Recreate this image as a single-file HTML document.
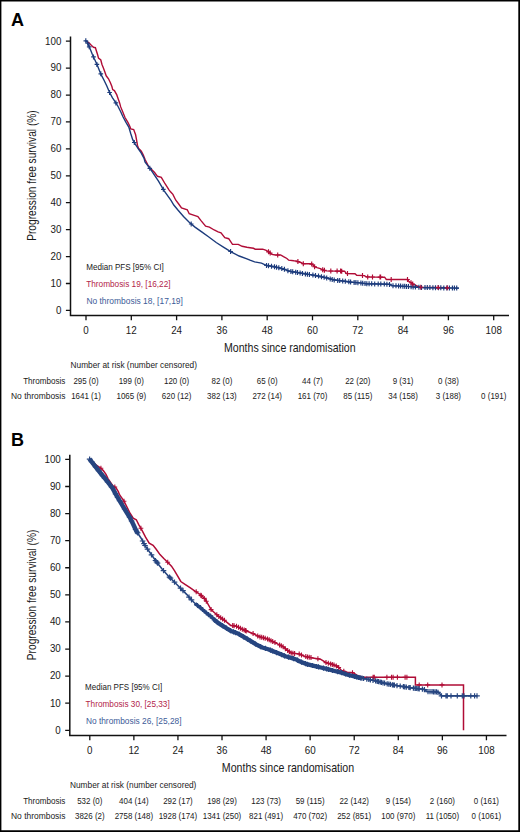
<!DOCTYPE html>
<html><head><meta charset="utf-8"><title>Progression free survival</title>
<style>html,body{margin:0;padding:0;background:#fff;}svg{display:block;}text{font-family:"Liberation Sans", sans-serif;}.tk{font-size:10.1px;fill:#1a1a1a;}.lg{font-size:8.6px;}.tb{font-size:8.6px;fill:#1a1a1a;}.ti{font-size:12.9px;fill:#1a1a1a;}.pl{font-size:18px;font-weight:bold;fill:#000;}</style></head><body>
<svg width="520" height="832" viewBox="0 0 520 832">
<rect x="0" y="0" width="520" height="832" fill="#fff"/>
<path d="M0,0.7 H520 M0.7,0 V832" stroke="#000" stroke-width="1.4" fill="none"/>
<path d="M0,831.15 H520 M519.15,0 V832" stroke="#000" stroke-width="1.7" fill="none"/>
<text x="10.9" y="26.4" class="pl">A</text>
<text x="11.1" y="446.4" class="pl">B</text>
<path d="M70.5,36.5 V316.25 M69.75,315.5 H509.0" stroke="#111" stroke-width="1.5" fill="none"/>
<path d="M65.9,310.40 H70.5 M65.9,283.48 H70.5 M65.9,256.56 H70.5 M65.9,229.64 H70.5 M65.9,202.72 H70.5 M65.9,175.80 H70.5 M65.9,148.88 H70.5 M65.9,121.96 H70.5 M65.9,95.04 H70.5 M65.9,68.12 H70.5 M65.9,41.20 H70.5 M86.00,315.5 V320.2 M131.30,315.5 V320.2 M176.60,315.5 V320.2 M221.90,315.5 V320.2 M267.20,315.5 V320.2 M312.50,315.5 V320.2 M357.80,315.5 V320.2 M403.10,315.5 V320.2 M448.40,315.5 V320.2 M493.70,315.5 V320.2" stroke="#111" stroke-width="1.3" fill="none"/>
<text x="61.4" y="313.70" text-anchor="end" class="tk" textLength="5.45" lengthAdjust="spacingAndGlyphs">0</text>
<text x="61.4" y="286.78" text-anchor="end" class="tk" textLength="10.90" lengthAdjust="spacingAndGlyphs">10</text>
<text x="61.4" y="259.86" text-anchor="end" class="tk" textLength="10.90" lengthAdjust="spacingAndGlyphs">20</text>
<text x="61.4" y="232.94" text-anchor="end" class="tk" textLength="10.90" lengthAdjust="spacingAndGlyphs">30</text>
<text x="61.4" y="206.02" text-anchor="end" class="tk" textLength="10.90" lengthAdjust="spacingAndGlyphs">40</text>
<text x="61.4" y="179.10" text-anchor="end" class="tk" textLength="10.90" lengthAdjust="spacingAndGlyphs">50</text>
<text x="61.4" y="152.18" text-anchor="end" class="tk" textLength="10.90" lengthAdjust="spacingAndGlyphs">60</text>
<text x="61.4" y="125.26" text-anchor="end" class="tk" textLength="10.90" lengthAdjust="spacingAndGlyphs">70</text>
<text x="61.4" y="98.34" text-anchor="end" class="tk" textLength="10.90" lengthAdjust="spacingAndGlyphs">80</text>
<text x="61.4" y="71.42" text-anchor="end" class="tk" textLength="10.90" lengthAdjust="spacingAndGlyphs">90</text>
<text x="61.4" y="44.50" text-anchor="end" class="tk" textLength="16.35" lengthAdjust="spacingAndGlyphs">100</text>
<text x="86.00" y="333.9" text-anchor="middle" class="tk" textLength="5.45" lengthAdjust="spacingAndGlyphs">0</text>
<text x="131.30" y="333.9" text-anchor="middle" class="tk" textLength="10.90" lengthAdjust="spacingAndGlyphs">12</text>
<text x="176.60" y="333.9" text-anchor="middle" class="tk" textLength="10.90" lengthAdjust="spacingAndGlyphs">24</text>
<text x="221.90" y="333.9" text-anchor="middle" class="tk" textLength="10.90" lengthAdjust="spacingAndGlyphs">36</text>
<text x="267.20" y="333.9" text-anchor="middle" class="tk" textLength="10.90" lengthAdjust="spacingAndGlyphs">48</text>
<text x="312.50" y="333.9" text-anchor="middle" class="tk" textLength="10.90" lengthAdjust="spacingAndGlyphs">60</text>
<text x="357.80" y="333.9" text-anchor="middle" class="tk" textLength="10.90" lengthAdjust="spacingAndGlyphs">72</text>
<text x="403.10" y="333.9" text-anchor="middle" class="tk" textLength="10.90" lengthAdjust="spacingAndGlyphs">84</text>
<text x="448.40" y="333.9" text-anchor="middle" class="tk" textLength="10.90" lengthAdjust="spacingAndGlyphs">96</text>
<text x="493.70" y="333.9" text-anchor="middle" class="tk" textLength="16.35" lengthAdjust="spacingAndGlyphs">108</text>
<text class="ti" transform="translate(36.2,240.8) rotate(-90)" textLength="130.5" lengthAdjust="spacingAndGlyphs">Progression free survival (%)</text>
<text class="ti" x="224.0" y="351.6" textLength="131.6" lengthAdjust="spacingAndGlyphs">Months since randomisation</text>
<polyline points="86.0,41.2 87.3,41.9 89.2,43.1 91.5,45.4 93.5,47.3 95.4,47.7 96.5,51.2 97.7,55.0 98.5,58.1 100.8,60.0 101.9,64.2 103.1,67.3 104.6,71.2 106.2,75.8 108.5,78.8 110.4,82.7 111.9,86.5 112.7,89.6 114.4,90.6 116.8,94.9 118.3,99.2 119.7,103.1 120.7,106.9 123.1,112.7 125.0,117.5 127.9,122.3 129.8,126.2 130.8,129.0 133.7,129.5 135.6,134.8 136.5,139.6 137.5,145.4 138.5,148.3 141.3,151.2 143.3,155.0 145.2,159.8 148.8,166.7 154.6,172.5 157.5,176.3 161.3,177.3 165.2,184.0 169.0,189.8 170.5,191.8 172.9,194.4 175.8,200.2 178.7,204.0 181.5,207.9 187.3,209.8 189.2,213.7 195.0,215.6 197.9,216.5 200.8,220.4 205.6,226.2 209.4,227.1 214.2,230.0 218.1,231.9 221.0,232.9 224.8,237.7 228.7,238.7 232.5,244.4 238.3,244.4 242.1,246.3 246.9,247.3 250.0,247.8 253.5,248.3 255.2,249.2 262.7,249.2 266.2,250.4 269.0,252.1 271.9,254.4 275.4,255.0 280.6,255.0 283.5,256.7 286.9,258.5 288.7,260.2 293.8,260.8 296.2,261.0 300.8,262.5 303.1,263.7 310.0,263.7 312.3,264.2 314.0,266.5 316.9,267.7 320.4,268.6 322.7,269.8 326.2,270.9 344.6,271.2 346.3,273.5 355.0,273.7 356.7,275.3 364.2,275.6 366.5,276.9 384.6,277.2 386.3,279.5 407.7,279.5 408.8,281.3 410.4,282.3 412.7,284.0 419.6,287.2 448.5,287.8" fill="none" stroke="#b00c36" stroke-width="1.4" stroke-linejoin="miter"/>
<polyline points="85.8,40.8 87.3,42.3 88.8,45.8 90.4,49.6 92.3,54.2 94.2,58.5 96.2,62.7 98.1,67.3 100.0,71.9 101.5,75.4 103.8,79.8 106.7,85.8 109.6,92.5 112.5,97.8 115.4,102.1 117.8,106.0 120.7,111.7 123.1,117.0 126.0,122.3 128.8,127.1 130.8,133.8 132.7,139.6 135.1,143.9 138.5,149.2 141.3,153.1 144.2,158.8 145.0,161.9 150.8,169.6 158.5,181.2 164.2,190.8 171.0,200.4 173.8,205.0 177.7,209.8 183.5,216.5 189.2,222.3 195.0,227.1 201.7,231.9 208.5,236.7 216.2,242.5 223.8,247.3 231.5,252.1 239.2,256.0 246.9,258.8 250.0,260.2 254.6,261.9 261.5,263.1 266.2,265.4 273.1,266.5 278.8,267.7 284.6,269.4 289.2,271.2 296.2,272.3 303.1,273.5 310.0,274.6 316.9,275.8 325.0,277.5 329.6,278.7 333.1,279.8 344.6,281.2 352.3,282.3 360.0,282.9 366.2,283.7 378.8,284.0 389.2,284.2 391.5,285.6 410.0,286.6 420.8,287.5 458.8,288.1" fill="none" stroke="#1c3b7c" stroke-width="1.4" stroke-linejoin="miter"/>
<path d="M85.8,38.3 V43.3 M83.5,40.8 H88.1 M87.7,40.7 V45.7 M85.4,43.2 H90.0 M89.2,44.3 V49.3 M86.9,46.8 H91.5 M93.5,54.4 V59.4 M91.2,56.9 H95.8 M96.9,61.9 V66.9 M94.6,64.4 H99.2 M100.8,71.3 V76.3 M98.5,73.8 H103.1 M109.6,90.0 V95.0 M107.3,92.5 H111.9 M115.9,100.4 V105.4 M113.6,102.9 H118.2 M134.3,140.0 V145.0 M132.0,142.5 H136.6 M149.8,165.8 V170.8 M147.5,168.3 H152.1 M163.3,186.8 V191.8 M161.0,189.3 H165.6 M191.2,221.5 V226.5 M188.9,224.0 H193.5 M230.6,249.0 V254.0 M228.3,251.5 H232.9 M266.5,262.9 V267.9 M264.2,265.4 H268.8 M268.5,263.3 V268.3 M266.2,265.8 H270.8 M271.5,263.7 V268.7 M269.2,266.2 H273.8 M274.5,264.3 V269.3 M272.2,266.8 H276.8 M276.5,264.7 V269.7 M274.2,267.2 H278.8 M278.8,265.2 V270.2 M276.5,267.7 H281.1 M281.8,266.1 V271.1 M279.5,268.6 H284.1 M284.4,266.8 V271.8 M282.1,269.3 H286.7 M287.9,268.2 V273.2 M285.6,270.7 H290.2 M290.9,269.0 V274.0 M288.6,271.5 H293.2 M292.7,269.2 V274.2 M290.4,271.8 H295.0 M295.7,269.7 V274.7 M293.4,272.2 H298.0 M297.5,270.0 V275.0 M295.2,272.5 H299.8 M300.1,270.5 V275.5 M297.8,273.0 H302.4 M302.4,270.9 V275.9 M300.1,273.4 H304.7 M305.4,271.4 V276.4 M303.1,273.9 H307.7 M307.4,271.7 V276.7 M305.1,274.2 H309.7 M309.4,272.0 V277.0 M307.1,274.5 H311.7 M312.9,272.6 V277.6 M310.6,275.1 H315.2 M315.5,273.1 V278.1 M313.2,275.6 H317.8 M318.5,273.6 V278.6 M316.2,276.1 H320.8 M321.5,274.3 V279.3 M319.2,276.8 H323.8 M324.1,274.8 V279.8 M321.8,277.3 H326.4 M326.7,275.4 V280.4 M324.4,277.9 H329.0 M330.2,276.4 V281.4 M327.9,278.9 H332.5 M332.2,277.0 V282.0 M329.9,279.5 H334.5 M334.2,277.4 V282.4 M331.9,279.9 H336.5 M337.7,277.9 V282.9 M335.4,280.4 H340.0 M339.7,278.1 V283.1 M337.4,280.6 H342.0 M342.7,278.5 V283.5 M340.4,281.0 H345.0 M345.3,278.8 V283.8 M343.0,281.3 H347.6 M348.8,279.3 V284.3 M346.5,281.8 H351.1 M350.6,279.6 V284.6 M348.3,282.1 H352.9 M354.1,279.9 V284.9 M351.8,282.4 H356.4 M355.9,280.1 V285.1 M353.6,282.6 H358.2 M357.9,280.2 V285.2 M355.6,282.7 H360.2 M360.9,280.5 V285.5 M358.6,283.0 H363.2 M362.7,280.7 V285.7 M360.4,283.2 H365.0 M365.0,281.0 V286.0 M362.7,283.5 H367.3 M366.8,281.2 V286.2 M364.5,283.7 H369.1 M369.1,281.3 V286.3 M366.8,283.8 H371.4 M371.7,281.3 V286.3 M369.4,283.8 H374.0 M374.7,281.4 V286.4 M372.4,283.9 H377.0 M378.2,281.5 V286.5 M375.9,284.0 H380.5 M380.8,281.5 V286.5 M378.5,284.0 H383.1 M384.3,281.6 V286.6 M382.0,284.1 H386.6 M386.9,281.7 V286.7 M384.6,284.2 H389.2 M389.5,281.9 V286.9 M387.2,284.4 H391.8 M393.0,283.2 V288.2 M390.7,285.7 H395.3 M396.0,283.3 V288.3 M393.7,285.8 H398.3 M398.6,283.5 V288.5 M396.3,286.0 H400.9 M400.6,283.6 V288.6 M398.3,286.1 H402.9 M402.9,283.7 V288.7 M400.6,286.2 H405.2 M404.7,283.8 V288.8 M402.4,286.3 H407.0 M406.5,283.9 V288.9 M404.2,286.4 H408.8 M408.5,284.0 V289.0 M406.2,286.5 H410.8 M411.1,284.2 V289.2 M408.8,286.7 H413.4 M413.1,284.4 V289.4 M410.8,286.9 H415.4 M415.4,284.6 V289.6 M413.1,287.1 H417.7 M418.9,284.8 V289.8 M416.6,287.3 H421.2 M421.5,285.0 V290.0 M419.2,287.5 H423.8 M425.0,285.1 V290.1 M422.7,287.6 H427.3 M427.3,285.1 V290.1 M425.0,287.6 H429.6 M429.9,285.1 V290.1 M427.6,287.6 H432.2 M432.9,285.2 V290.2 M430.6,287.7 H435.2 M435.5,285.2 V290.2 M433.2,287.7 H437.8 M438.5,285.3 V290.3 M436.2,287.8 H440.8 M440.8,285.3 V290.3 M438.5,287.8 H443.1 M443.8,285.4 V290.4 M441.5,287.9 H446.1 M446.8,285.4 V290.4 M444.5,287.9 H449.1 M449.4,285.5 V290.5 M447.1,288.0 H451.7 M452.4,285.5 V290.5 M450.1,288.0 H454.7 M454.4,285.5 V290.5 M452.1,288.0 H456.7 M456.7,285.6 V290.6 M454.4,288.1 H459.0" stroke="#1c3b7c" stroke-width="1.15" fill="none"/>
<path d="M268.5,249.3 V254.3 M266.2,251.8 H270.8 M270.2,250.6 V255.6 M267.9,253.1 H272.5 M277.7,252.5 V257.5 M275.4,255.0 H280.0 M297.9,259.1 V264.1 M295.6,261.6 H300.2 M303.3,261.2 V266.2 M301.0,263.7 H305.6 M311.7,261.6 V266.6 M309.4,264.1 H314.0 M314.6,264.2 V269.2 M312.3,266.7 H316.9 M322.7,267.3 V272.3 M320.4,269.8 H325.0 M324.4,267.8 V272.8 M322.1,270.3 H326.7 M330.8,268.5 V273.5 M328.5,271.0 H333.1 M337.1,268.6 V273.6 M334.8,271.1 H339.4 M340.6,268.6 V273.6 M338.3,271.1 H342.9 M341.7,268.7 V273.7 M339.4,271.2 H344.0 M347.5,271.0 V276.0 M345.2,273.5 H349.8 M362.5,273.0 V278.0 M360.2,275.5 H364.8 M367.7,274.4 V279.4 M365.4,276.9 H370.0 M372.5,274.5 V279.5 M370.2,277.0 H374.8 M380.0,274.6 V279.6 M377.7,277.1 H382.3 M380.6,274.6 V279.6 M378.3,277.1 H382.9 M391.2,277.0 V282.0 M388.9,279.5 H393.5 M407.5,277.0 V282.0 M405.2,279.5 H409.8 M411.0,280.2 V285.2 M408.7,282.7 H413.3 M412.7,281.5 V286.5 M410.4,284.0 H415.0 M420.8,284.7 V289.7 M418.5,287.2 H423.1 M438.1,285.1 V290.1 M435.8,287.6 H440.4 M447.3,285.3 V290.3 M445.0,287.8 H449.6" stroke="#b00c36" stroke-width="1.15" fill="none"/>
<text x="86.2" y="270.1" class="lg" fill="#1a1a1a" textLength="77.6" lengthAdjust="spacingAndGlyphs">Median PFS [95% CI]</text>
<text x="86.2" y="286.6" class="lg" fill="#b3244a" textLength="84.4" lengthAdjust="spacingAndGlyphs">Thrombosis 19, [16,22]</text>
<text x="86.4" y="303.9" class="lg" fill="#3d5b98" textLength="96.5" lengthAdjust="spacingAndGlyphs">No thrombosis 18, [17,19]</text>
<text x="70.6" y="368.0" class="tb" textLength="126.4" lengthAdjust="spacingAndGlyphs">Number at risk (number censored)</text>
<text x="65.4" y="383.5" class="tb" text-anchor="end" textLength="42.2" lengthAdjust="spacingAndGlyphs">Thrombosis</text>
<text x="65.4" y="398.8" class="tb" text-anchor="end" textLength="54.4" lengthAdjust="spacingAndGlyphs">No thrombosis</text>
<text x="86.00" y="383.5" class="tb" text-anchor="middle" textLength="25.21" lengthAdjust="spacingAndGlyphs">295 (0)</text>
<text x="131.30" y="383.5" class="tb" text-anchor="middle" textLength="25.21" lengthAdjust="spacingAndGlyphs">199 (0)</text>
<text x="176.60" y="383.5" class="tb" text-anchor="middle" textLength="25.21" lengthAdjust="spacingAndGlyphs">120 (0)</text>
<text x="221.90" y="383.5" class="tb" text-anchor="middle" textLength="20.78" lengthAdjust="spacingAndGlyphs">82 (0)</text>
<text x="267.20" y="383.5" class="tb" text-anchor="middle" textLength="20.78" lengthAdjust="spacingAndGlyphs">65 (0)</text>
<text x="312.50" y="383.5" class="tb" text-anchor="middle" textLength="20.78" lengthAdjust="spacingAndGlyphs">44 (7)</text>
<text x="357.80" y="383.5" class="tb" text-anchor="middle" textLength="25.21" lengthAdjust="spacingAndGlyphs">22 (20)</text>
<text x="403.10" y="383.5" class="tb" text-anchor="middle" textLength="20.78" lengthAdjust="spacingAndGlyphs">9 (31)</text>
<text x="448.40" y="383.5" class="tb" text-anchor="middle" textLength="20.78" lengthAdjust="spacingAndGlyphs">0 (38)</text>
<text x="86.00" y="398.8" class="tb" text-anchor="middle" textLength="29.63" lengthAdjust="spacingAndGlyphs">1641 (1)</text>
<text x="131.30" y="398.8" class="tb" text-anchor="middle" textLength="29.63" lengthAdjust="spacingAndGlyphs">1065 (9)</text>
<text x="176.60" y="398.8" class="tb" text-anchor="middle" textLength="29.63" lengthAdjust="spacingAndGlyphs">620 (12)</text>
<text x="221.90" y="398.8" class="tb" text-anchor="middle" textLength="29.63" lengthAdjust="spacingAndGlyphs">382 (13)</text>
<text x="267.20" y="398.8" class="tb" text-anchor="middle" textLength="29.63" lengthAdjust="spacingAndGlyphs">272 (14)</text>
<text x="312.50" y="398.8" class="tb" text-anchor="middle" textLength="29.63" lengthAdjust="spacingAndGlyphs">161 (70)</text>
<text x="357.80" y="398.8" class="tb" text-anchor="middle" textLength="29.04" lengthAdjust="spacingAndGlyphs">85 (115)</text>
<text x="403.10" y="398.8" class="tb" text-anchor="middle" textLength="29.63" lengthAdjust="spacingAndGlyphs">34 (158)</text>
<text x="448.40" y="398.8" class="tb" text-anchor="middle" textLength="25.21" lengthAdjust="spacingAndGlyphs">3 (188)</text>
<text x="493.70" y="398.8" class="tb" text-anchor="middle" textLength="25.21" lengthAdjust="spacingAndGlyphs">0 (191)</text>
<path d="M69.8,454.7 V736.35 M69.05,735.6 H506.5" stroke="#111" stroke-width="1.5" fill="none"/>
<path d="M65.2,730.30 H69.8 M65.2,703.21 H69.8 M65.2,676.12 H69.8 M65.2,649.03 H69.8 M65.2,621.94 H69.8 M65.2,594.85 H69.8 M65.2,567.76 H69.8 M65.2,540.67 H69.8 M65.2,513.58 H69.8 M65.2,486.49 H69.8 M65.2,459.40 H69.8 M89.80,735.6 V740.3 M133.87,735.6 V740.3 M177.94,735.6 V740.3 M222.01,735.6 V740.3 M266.08,735.6 V740.3 M310.15,735.6 V740.3 M354.22,735.6 V740.3 M398.29,735.6 V740.3 M442.36,735.6 V740.3 M486.43,735.6 V740.3" stroke="#111" stroke-width="1.3" fill="none"/>
<text x="60.8" y="733.60" text-anchor="end" class="tk" textLength="5.45" lengthAdjust="spacingAndGlyphs">0</text>
<text x="60.8" y="706.51" text-anchor="end" class="tk" textLength="10.90" lengthAdjust="spacingAndGlyphs">10</text>
<text x="60.8" y="679.42" text-anchor="end" class="tk" textLength="10.90" lengthAdjust="spacingAndGlyphs">20</text>
<text x="60.8" y="652.33" text-anchor="end" class="tk" textLength="10.90" lengthAdjust="spacingAndGlyphs">30</text>
<text x="60.8" y="625.24" text-anchor="end" class="tk" textLength="10.90" lengthAdjust="spacingAndGlyphs">40</text>
<text x="60.8" y="598.15" text-anchor="end" class="tk" textLength="10.90" lengthAdjust="spacingAndGlyphs">50</text>
<text x="60.8" y="571.06" text-anchor="end" class="tk" textLength="10.90" lengthAdjust="spacingAndGlyphs">60</text>
<text x="60.8" y="543.97" text-anchor="end" class="tk" textLength="10.90" lengthAdjust="spacingAndGlyphs">70</text>
<text x="60.8" y="516.88" text-anchor="end" class="tk" textLength="10.90" lengthAdjust="spacingAndGlyphs">80</text>
<text x="60.8" y="489.79" text-anchor="end" class="tk" textLength="10.90" lengthAdjust="spacingAndGlyphs">90</text>
<text x="60.8" y="462.70" text-anchor="end" class="tk" textLength="16.35" lengthAdjust="spacingAndGlyphs">100</text>
<text x="89.80" y="753.7" text-anchor="middle" class="tk" textLength="5.45" lengthAdjust="spacingAndGlyphs">0</text>
<text x="133.87" y="753.7" text-anchor="middle" class="tk" textLength="10.90" lengthAdjust="spacingAndGlyphs">12</text>
<text x="177.94" y="753.7" text-anchor="middle" class="tk" textLength="10.90" lengthAdjust="spacingAndGlyphs">24</text>
<text x="222.01" y="753.7" text-anchor="middle" class="tk" textLength="10.90" lengthAdjust="spacingAndGlyphs">36</text>
<text x="266.08" y="753.7" text-anchor="middle" class="tk" textLength="10.90" lengthAdjust="spacingAndGlyphs">48</text>
<text x="310.15" y="753.7" text-anchor="middle" class="tk" textLength="10.90" lengthAdjust="spacingAndGlyphs">60</text>
<text x="354.22" y="753.7" text-anchor="middle" class="tk" textLength="10.90" lengthAdjust="spacingAndGlyphs">72</text>
<text x="398.29" y="753.7" text-anchor="middle" class="tk" textLength="10.90" lengthAdjust="spacingAndGlyphs">84</text>
<text x="442.36" y="753.7" text-anchor="middle" class="tk" textLength="10.90" lengthAdjust="spacingAndGlyphs">96</text>
<text x="486.43" y="753.7" text-anchor="middle" class="tk" textLength="16.35" lengthAdjust="spacingAndGlyphs">108</text>
<text class="ti" transform="translate(35.9,660.2) rotate(-90)" textLength="130.6" lengthAdjust="spacingAndGlyphs">Progression free survival (%)</text>
<text class="ti" x="221.8" y="771.8" textLength="132.4" lengthAdjust="spacingAndGlyphs">Months since randomisation</text>
<polyline points="89.8,459.4 94.5,463.2 96.0,465.0 101.0,468.3 103.3,470.6 106.0,474.4 108.0,478.6 110.2,482.0 113.0,485.9 116.0,487.8 118.3,491.7 119.5,494.7 120.9,496.6 124.0,501.2 127.1,507.4 130.2,513.5 133.2,518.2 136.3,519.7 138.6,524.3 142.3,530.8 145.4,536.9 149.2,543.1 153.1,545.4 156.2,549.2 160.0,554.6 163.8,558.5 167.7,562.3 171.5,566.2 174.6,570.8 177.7,576.2 180.8,581.5 185.4,584.6 190.0,587.7 194.6,590.8 199.2,593.8 203.8,597.7 206.2,601.0 211.2,609.8 218.8,616.5 224.6,620.4 230.4,625.2 236.2,626.2 241.9,629.0 247.7,631.5 253.5,633.8 259.2,636.7 266.9,638.7 272.7,641.5 278.5,644.4 284.2,647.3 285.8,649.2 291.5,653.1 299.2,654.0 305.0,656.5 312.7,657.9 320.4,659.2 326.2,662.7 331.9,664.2 337.7,666.5 341.5,670.4 347.3,672.3 353.1,672.7 356.9,675.2 362.7,677.3 415.4,677.3 415.4,684.9 463.5,684.9 463.5,730.3" fill="none" stroke="#b00c36" stroke-width="1.5"/>
<path d="M100.9,465.7 V470.7 M98.5,468.2 H103.3 M114.8,484.5 V489.5 M112.4,487.0 H117.2 M124.0,498.7 V503.7 M121.6,501.2 H126.4 M140.9,525.8 V530.8 M138.5,528.3 H143.3 M167.7,559.8 V564.8 M165.3,562.3 H170.1 M196.2,589.3 V594.3 M193.8,591.8 H198.6 M200.8,592.7 V597.7 M198.4,595.2 H203.2 M201.4,593.2 V598.2 M199.0,595.7 H203.8 M204.3,595.9 V600.9 M201.9,598.4 H206.7 M206.3,598.7 V603.7 M203.9,601.2 H208.7 M211.1,607.1 V612.1 M208.7,609.6 H213.5 M216.8,612.2 V617.2 M214.4,614.7 H219.2 M218.8,614.0 V619.0 M216.4,616.5 H221.2 M220.7,615.3 V620.3 M218.3,617.8 H223.1 M222.6,616.6 V621.6 M220.2,619.1 H225.0 M224.5,617.8 V622.8 M222.1,620.3 H226.9 M232.7,623.1 V628.1 M230.3,625.6 H235.1 M234.1,623.3 V628.3 M231.7,625.8 H236.5 M236.5,623.8 V628.8 M234.1,626.3 H238.9 M238.5,624.8 V629.8 M236.1,627.3 H240.9 M240.4,625.8 V630.8 M238.0,628.3 H242.8 M242.3,626.7 V631.7 M239.9,629.2 H244.7 M244.2,627.5 V632.5 M241.8,630.0 H246.6 M245.6,628.1 V633.1 M243.2,630.6 H248.0 M246.2,628.4 V633.4 M243.8,630.9 H248.6 M253.1,631.1 V636.1 M250.7,633.6 H255.5 M257.7,633.4 V638.4 M255.3,635.9 H260.1 M260.0,634.4 V639.4 M257.6,636.9 H262.4 M261.7,634.8 V639.8 M259.3,637.3 H264.1 M263.5,635.3 V640.3 M261.1,637.8 H265.9 M265.2,635.8 V640.8 M262.8,638.3 H267.6 M267.5,636.5 V641.5 M265.1,639.0 H269.9 M269.2,637.3 V642.3 M266.8,639.8 H271.6 M271.0,638.2 V643.2 M268.6,640.7 H273.4 M272.7,639.0 V644.0 M270.3,641.5 H275.1 M275.0,640.1 V645.1 M272.6,642.6 H277.4 M279.6,642.5 V647.5 M277.2,645.0 H282.0 M281.3,643.3 V648.3 M278.9,645.8 H283.7 M283.1,644.2 V649.2 M280.7,646.7 H285.5 M285.4,646.2 V651.2 M283.0,648.7 H287.8 M287.7,648.0 V653.0 M285.3,650.5 H290.1 M289.4,649.2 V654.2 M287.0,651.7 H291.8 M291.2,650.4 V655.4 M288.8,652.9 H293.6 M292.9,650.8 V655.8 M290.5,653.3 H295.3 M294.6,651.0 V656.0 M292.2,653.5 H297.0 M299.2,651.5 V656.5 M296.8,654.0 H301.6 M301.5,652.5 V657.5 M299.1,655.0 H303.9 M305.8,654.1 V659.1 M303.4,656.6 H308.2 M307.5,654.5 V659.5 M305.1,657.0 H309.9 M309.2,654.8 V659.8 M306.8,657.3 H311.6 M311.0,655.1 V660.1 M308.6,657.6 H313.4 M317.9,656.3 V661.3 M315.5,658.8 H320.3 M326.0,660.1 V665.1 M323.6,662.6 H328.4 M328.3,660.8 V665.8 M325.9,663.3 H330.7 M330.6,661.4 V666.4 M328.2,663.9 H333.0 M332.3,661.9 V666.9 M329.9,664.4 H334.7 M334.0,662.5 V667.5 M331.6,665.0 H336.4 M336.3,663.4 V668.4 M333.9,665.9 H338.7 M338.7,665.0 V670.0 M336.3,667.5 H341.1 M343.8,668.7 V673.7 M341.4,671.2 H346.2 M352.5,670.2 V675.2 M350.1,672.7 H354.9 M373.1,674.8 V679.8 M370.7,677.3 H375.5 M374.3,674.8 V679.8 M371.9,677.3 H376.7 M386.9,674.8 V679.8 M384.5,677.3 H389.3 M391.5,674.8 V679.8 M389.1,677.3 H393.9 M393.1,674.8 V679.8 M390.7,677.3 H395.5 M397.4,674.8 V679.8 M395.0,677.3 H399.8 M405.1,674.8 V679.8 M402.7,677.3 H407.5 M406.9,674.8 V679.8 M404.5,677.3 H409.3 M419.2,682.4 V687.4 M416.8,684.9 H421.6 M427.7,682.4 V687.4 M425.3,684.9 H430.1 M442.0,682.4 V687.4 M439.6,684.9 H444.4" stroke="#b00c36" stroke-width="1.1" fill="none"/>
<polyline points="89.4,458.9 94.8,465.8 100.9,473.5 107.1,481.2 112.5,488.2 116.3,495.1 120.9,502.8 125.5,510.5 130.2,518.2 133.2,524.3 136.2,530.8 140.8,537.7 145.4,546.2 150.8,553.8 156.2,561.5 162.3,569.2 168.5,576.2 174.6,582.3 180.8,588.5 186.9,594.6 190.8,599.2 195.8,604.2 200.0,607.3 203.8,610.7 207.7,614.0 211.5,616.9 215.4,620.8 219.2,623.7 223.1,626.1 226.9,628.5 230.8,630.9 234.6,632.3 238.5,633.8 245.0,637.7 250.8,641.2 256.5,644.6 262.3,647.5 268.1,649.2 273.8,651.5 279.6,653.8 285.4,656.2 291.2,657.9 296.9,659.8 300.0,661.6 306.9,664.2 313.8,665.8 320.8,667.5 327.7,669.2 334.6,671.0 341.5,672.7 348.5,675.0 355.4,676.7 360.0,677.9 366.5,679.0 376.2,681.0 385.4,683.4 393.1,684.9 400.8,686.2 408.5,687.4 416.2,688.5 423.8,689.2 426.9,691.5 437.7,692.0 440.4,694.4 441.5,695.9 477.3,695.9" fill="none" stroke="#264580" stroke-width="1.6"/>
<polyline points="89.4,458.9 94.8,465.8 100.9,473.5 107.1,481.2 112.5,488.2 116.3,495.1 120.9,502.8 125.5,510.5 130.2,518.2 133.2,524.3 136.2,530.8 138.0,533.5" fill="none" stroke="#264580" stroke-width="4.5" stroke-linejoin="round"/>
<polyline points="195.0,603.4 195.8,604.2 200.0,607.3 203.8,610.7 207.7,614.0 211.5,616.9 215.0,620.4" fill="none" stroke="#264580" stroke-width="3.4" stroke-linejoin="round"/>
<polyline points="214.0,619.4 215.4,620.8 219.2,623.7 223.1,626.1 226.9,628.5 230.8,630.9 234.6,632.3 238.5,633.8 245.0,637.7 250.8,641.2 256.5,644.6 262.3,647.5 268.1,649.2 273.8,651.5 279.6,653.8 285.4,656.2 291.2,657.9 296.9,659.8 300.0,661.6 306.9,664.2 313.8,665.8 320.8,667.5 327.7,669.2 334.6,671.0 341.5,672.7 348.5,675.0 355.4,676.7 360.0,677.9 362.0,678.2" fill="none" stroke="#264580" stroke-width="4.3" stroke-linejoin="round"/>
<path d="M89.6,456.6 V461.8 M86.8,459.2 H92.4 M91.6,459.1 V464.3 M88.8,461.7 H94.4 M95.6,464.2 V469.4 M92.8,466.8 H98.4 M98.6,468.0 V473.2 M95.8,470.6 H101.4 M102.6,473.0 V478.2 M99.8,475.6 H105.4 M104.6,475.5 V480.7 M101.8,478.1 H107.4 M107.6,479.2 V484.4 M104.8,481.8 H110.4 M111.6,484.4 V489.6 M108.8,487.0 H114.4 M115.6,491.2 V496.4 M112.8,493.8 H118.4 M117.6,494.7 V499.9 M114.8,497.3 H120.4 M119.6,498.0 V503.2 M116.8,500.6 H122.4 M124.6,506.4 V511.6 M121.8,509.0 H127.4 M129.6,514.6 V519.8 M126.8,517.2 H132.4 M131.6,518.4 V523.6 M128.8,521.0 H134.4 M135.6,526.9 V532.1 M132.8,529.5 H138.4 M137.6,530.3 V535.5 M134.8,532.9 H140.4 M142.6,538.4 V543.6 M139.8,541.0 H145.4 M144.0,541.0 V546.2 M141.2,543.6 H146.8 M145.0,542.9 V548.1 M142.2,545.5 H147.8 M147.5,546.6 V551.8 M144.7,549.2 H150.3 M151.5,552.2 V557.4 M148.7,554.8 H154.3 M155.5,557.9 V563.1 M152.7,560.5 H158.3 M156.5,559.3 V564.5 M153.7,561.9 H159.3 M157.5,560.5 V565.7 M154.7,563.1 H160.3 M163.5,568.0 V573.2 M160.7,570.6 H166.3 M169.5,574.6 V579.8 M166.7,577.2 H172.3 M170.5,575.6 V580.8 M167.7,578.2 H173.3 M174.5,579.6 V584.8 M171.7,582.2 H177.3 M180.5,585.6 V590.8 M177.7,588.2 H183.3 M183.0,588.1 V593.3 M180.2,590.7 H185.8 M189.0,594.5 V599.7 M186.2,597.1 H191.8 M191.5,597.3 V602.5 M188.7,599.9 H194.3 M197.5,602.9 V608.1 M194.7,605.5 H200.3 M200.5,605.1 V610.3 M197.7,607.7 H203.3 M202.5,606.9 V612.1 M199.7,609.5 H205.3 M206.5,610.4 V615.6 M203.7,613.0 H209.3 M208.5,612.0 V617.2 M205.7,614.6 H211.3 M210.5,613.5 V618.7 M207.7,616.1 H213.3 M212.5,615.3 V620.5 M209.7,617.9 H215.3 M214.5,617.3 V622.5 M211.7,619.9 H217.3 M217.5,619.8 V625.0 M214.7,622.4 H220.3 M222.5,623.1 V628.3 M219.7,625.7 H225.3 M226.5,625.6 V630.8 M223.7,628.2 H229.3 M230.5,628.1 V633.3 M227.7,630.7 H233.3 M233.5,629.3 V634.5 M230.7,631.9 H236.3 M235.5,630.0 V635.2 M232.7,632.6 H238.3 M239.5,631.8 V637.0 M236.7,634.4 H242.3 M243.5,634.2 V639.4 M240.7,636.8 H246.3 M247.5,636.6 V641.8 M244.7,639.2 H250.3 M250.5,638.4 V643.6 M247.7,641.0 H253.3 M255.5,641.4 V646.6 M252.7,644.0 H258.3 M260.5,644.0 V649.2 M257.7,646.6 H263.3 M265.5,645.8 V651.0 M262.7,648.4 H268.3 M270.5,647.6 V652.8 M267.7,650.2 H273.3 M272.5,648.4 V653.6 M269.7,651.0 H275.3 M276.5,650.0 V655.2 M273.7,652.6 H279.3 M281.5,652.0 V657.2 M278.7,654.6 H284.3 M284.5,653.2 V658.4 M281.7,655.8 H287.3 M288.5,654.5 V659.7 M285.7,657.1 H291.3 M293.5,656.1 V661.3 M290.7,658.7 H296.3 M297.5,657.5 V662.7 M294.7,660.1 H300.3 M301.5,659.6 V664.8 M298.7,662.2 H304.3 M305.5,661.1 V666.3 M302.7,663.7 H308.3 M307.5,661.7 V666.9 M304.7,664.3 H310.3 M312.5,662.9 V668.1 M309.7,665.5 H315.3 M316.5,663.9 V669.1 M313.7,666.5 H319.3 M318.5,664.3 V669.5 M315.7,666.9 H321.3 M323.5,665.6 V670.8 M320.7,668.2 H326.3 M326.5,666.3 V671.5 M323.7,668.9 H329.3 M328.5,666.8 V672.0 M325.7,669.4 H331.3 M332.5,667.9 V673.1 M329.7,670.5 H335.3 M337.5,669.1 V674.3 M334.7,671.7 H340.3 M341.5,670.1 V675.3 M338.7,672.7 H344.3 M345.5,671.4 V676.6 M342.7,674.0 H348.3 M349.5,672.6 V677.8 M346.7,675.2 H352.3 M354.5,673.9 V679.1 M351.7,676.5 H357.3 M356.5,674.4 V679.6 M353.7,677.0 H359.3 M358.5,674.9 V680.1 M355.7,677.5 H361.3 M360.5,675.4 V680.6 M357.7,678.0 H363.3 M362.0,675.6 V680.8 M359.2,678.2 H364.8 M363.6,675.9 V681.1 M360.8,678.5 H366.4 M366.8,676.5 V681.7 M364.0,679.1 H369.6 M368.8,676.9 V682.1 M366.0,679.5 H371.6 M370.4,677.2 V682.4 M367.6,679.8 H373.2 M373.0,677.7 V682.9 M370.2,680.3 H375.8 M375.6,678.3 V683.5 M372.8,680.9 H378.4 M377.2,678.7 V683.9 M374.4,681.3 H380.0 M378.5,679.0 V684.2 M375.7,681.6 H381.3 M380.1,679.4 V684.6 M377.3,682.0 H382.9 M381.4,679.8 V685.0 M378.6,682.4 H384.2 M383.0,680.2 V685.4 M380.2,682.8 H385.8 M384.6,680.6 V685.8 M381.8,683.2 H387.4 M387.2,681.2 V686.4 M384.4,683.8 H390.0 M388.8,681.5 V686.7 M386.0,684.1 H391.6 M390.4,681.8 V687.0 M387.6,684.4 H393.2 M392.4,682.2 V687.4 M389.6,684.8 H395.2 M393.4,682.4 V687.6 M390.6,685.0 H396.2 M394.4,682.5 V687.7 M391.6,685.1 H397.2 M397.0,683.0 V688.2 M394.2,685.6 H399.8 M400.2,683.5 V688.7 M397.4,686.1 H403.0 M403.4,684.0 V689.2 M400.6,686.6 H406.2 M404.7,684.2 V689.4 M401.9,686.8 H407.5 M406.3,684.5 V689.7 M403.5,687.1 H409.1 M408.9,684.9 V690.1 M406.1,687.5 H411.7 M410.2,685.0 V690.2 M407.4,687.6 H413.0 M413.4,685.5 V690.7 M410.6,688.1 H416.2 M415.0,685.7 V690.9 M412.2,688.3 H417.8 M416.3,685.9 V691.1 M413.5,688.5 H419.1 M417.9,686.1 V691.3 M415.1,688.7 H420.7 M419.2,686.2 V691.4 M416.4,688.8 H422.0 M422.4,686.5 V691.7 M419.6,689.1 H425.2 M424.4,687.0 V692.2 M421.6,689.6 H427.2 M428.0,689.0 V694.2 M425.2,691.6 H430.8 M430.0,689.0 V694.2 M427.2,691.6 H432.8 M432.0,689.1 V694.3 M429.2,691.7 H434.8 M433.5,689.2 V694.4 M430.7,691.8 H436.3 M435.0,689.3 V694.5 M432.2,691.9 H437.8 M436.5,689.3 V694.5 M433.7,691.9 H439.3 M438.0,689.7 V694.9 M435.2,692.3 H440.8 M441.5,693.3 V698.5 M438.7,695.9 H444.3 M446.0,693.3 V698.5 M443.2,695.9 H448.8 M447.3,693.3 V698.5 M444.5,695.9 H450.1 M451.0,693.3 V698.5 M448.2,695.9 H453.8 M457.3,693.3 V698.5 M454.5,695.9 H460.1 M462.3,693.3 V698.5 M459.5,695.9 H465.1 M464.0,693.3 V698.5 M461.2,695.9 H466.8 M470.8,693.3 V698.5 M468.0,695.9 H473.6 M474.6,693.3 V698.5 M471.8,695.9 H477.4 M477.0,693.3 V698.5 M474.2,695.9 H479.8" stroke="#264580" stroke-width="1.2" fill="none"/>
<text x="85.1" y="690.2" class="lg" fill="#1a1a1a" textLength="77.1" lengthAdjust="spacingAndGlyphs">Median PFS [95% CI]</text>
<text x="85.6" y="706.8" class="lg" fill="#b3244a" textLength="84.1" lengthAdjust="spacingAndGlyphs">Thrombosis 30, [25,33]</text>
<text x="85.9" y="724.1" class="lg" fill="#3d5b98" textLength="95.6" lengthAdjust="spacingAndGlyphs">No thrombosis 26, [25,28]</text>
<text x="70.0" y="788.1" class="tb" textLength="126.4" lengthAdjust="spacingAndGlyphs">Number at risk (number censored)</text>
<text x="65.4" y="803.5" class="tb" text-anchor="end" textLength="42.2" lengthAdjust="spacingAndGlyphs">Thrombosis</text>
<text x="65.4" y="818.8" class="tb" text-anchor="end" textLength="54.4" lengthAdjust="spacingAndGlyphs">No thrombosis</text>
<text x="89.80" y="803.5" class="tb" text-anchor="middle" textLength="25.21" lengthAdjust="spacingAndGlyphs">532 (0)</text>
<text x="133.87" y="803.5" class="tb" text-anchor="middle" textLength="29.63" lengthAdjust="spacingAndGlyphs">404 (14)</text>
<text x="177.94" y="803.5" class="tb" text-anchor="middle" textLength="29.63" lengthAdjust="spacingAndGlyphs">292 (17)</text>
<text x="222.01" y="803.5" class="tb" text-anchor="middle" textLength="29.63" lengthAdjust="spacingAndGlyphs">198 (29)</text>
<text x="266.08" y="803.5" class="tb" text-anchor="middle" textLength="29.63" lengthAdjust="spacingAndGlyphs">123 (73)</text>
<text x="310.15" y="803.5" class="tb" text-anchor="middle" textLength="29.04" lengthAdjust="spacingAndGlyphs">59 (115)</text>
<text x="354.22" y="803.5" class="tb" text-anchor="middle" textLength="29.63" lengthAdjust="spacingAndGlyphs">22 (142)</text>
<text x="398.29" y="803.5" class="tb" text-anchor="middle" textLength="25.21" lengthAdjust="spacingAndGlyphs">9 (154)</text>
<text x="442.36" y="803.5" class="tb" text-anchor="middle" textLength="25.21" lengthAdjust="spacingAndGlyphs">2 (160)</text>
<text x="486.43" y="803.5" class="tb" text-anchor="middle" textLength="25.21" lengthAdjust="spacingAndGlyphs">0 (161)</text>
<text x="89.80" y="818.8" class="tb" text-anchor="middle" textLength="29.63" lengthAdjust="spacingAndGlyphs">3826 (2)</text>
<text x="133.87" y="818.8" class="tb" text-anchor="middle" textLength="38.48" lengthAdjust="spacingAndGlyphs">2758 (148)</text>
<text x="177.94" y="818.8" class="tb" text-anchor="middle" textLength="38.48" lengthAdjust="spacingAndGlyphs">1928 (174)</text>
<text x="222.01" y="818.8" class="tb" text-anchor="middle" textLength="38.48" lengthAdjust="spacingAndGlyphs">1341 (250)</text>
<text x="266.08" y="818.8" class="tb" text-anchor="middle" textLength="34.05" lengthAdjust="spacingAndGlyphs">821 (491)</text>
<text x="310.15" y="818.8" class="tb" text-anchor="middle" textLength="34.05" lengthAdjust="spacingAndGlyphs">470 (702)</text>
<text x="354.22" y="818.8" class="tb" text-anchor="middle" textLength="34.05" lengthAdjust="spacingAndGlyphs">252 (851)</text>
<text x="398.29" y="818.8" class="tb" text-anchor="middle" textLength="34.05" lengthAdjust="spacingAndGlyphs">100 (970)</text>
<text x="442.36" y="818.8" class="tb" text-anchor="middle" textLength="33.46" lengthAdjust="spacingAndGlyphs">11 (1050)</text>
<text x="486.43" y="818.8" class="tb" text-anchor="middle" textLength="29.63" lengthAdjust="spacingAndGlyphs">0 (1061)</text>
</svg></body></html>
